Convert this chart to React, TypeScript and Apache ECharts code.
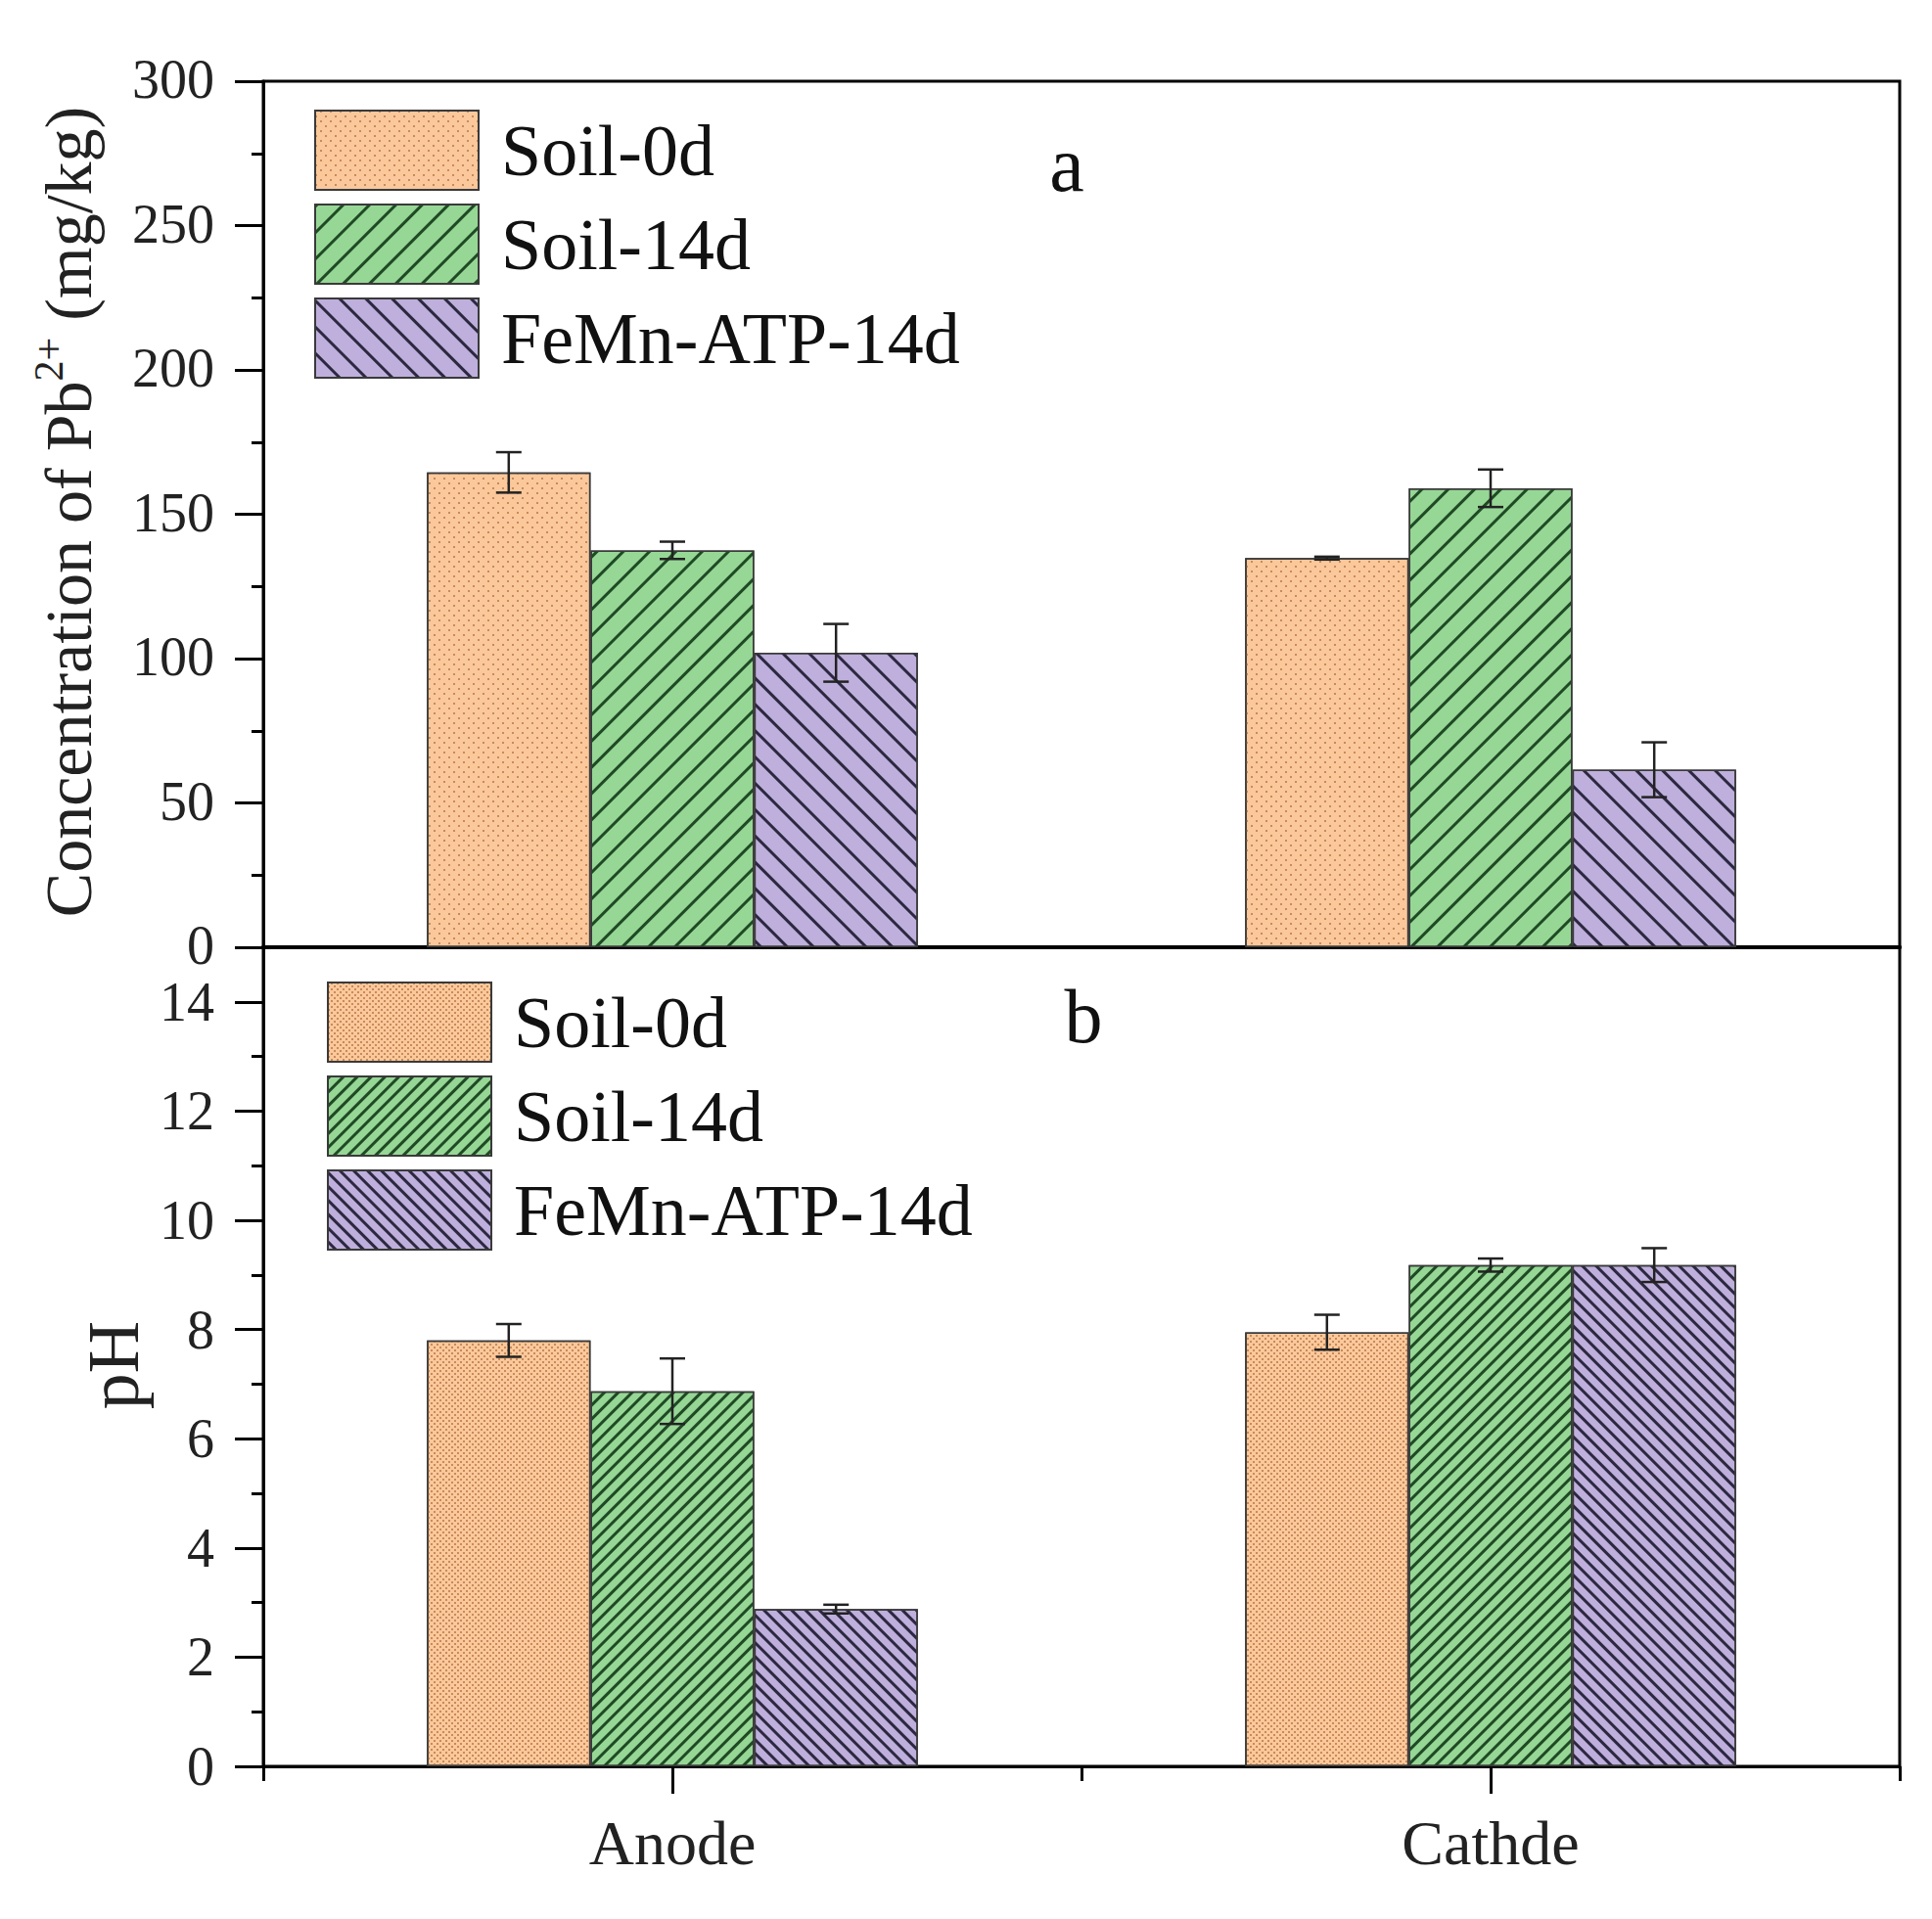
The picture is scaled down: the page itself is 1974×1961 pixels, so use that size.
import React, { useEffect, useRef } from "react";
import * as echarts from "echarts";

const categories = ["Anode", "Cathde"];
const seriesNames = ["Soil-0d", "Soil-14d", "FeMn-ATP-14d"];

// Panel a: Pb2+ concentration (mg/kg)
const pbSoil0d = [164.5, 134.8];
const pbSoil14d = [137.5, 159.0];
const pbFeMn14d = [102.0, 61.5];
const pbSoil0dErr = [7.0, 0.5];
const pbSoil14dErr = [3.0, 6.5];
const pbFeMn14dErr = [10.0, 9.5];

// Panel b: pH
const phSoil0d = [7.8, 7.95];
const phSoil14d = [6.87, 9.18];
const phFeMn14d = [2.88, 9.18];
const phSoil0dErr = [0.3, 0.32];
const phSoil14dErr = [0.6, 0.12];
const phFeMn14dErr = [0.08, 0.31];

const FONT = "'Liberation Serif', 'Times New Roman', serif";
const fills = ["#FAC89B", "#96D796", "#BEAFDC"];
const BORDER = "#3a3a3a";

function dots(step: number) {
  return {
    symbol: "rect",
    symbolSize: 1,
    dashArrayX: [
      [2, step - 2],
      [0, step / 2, 2, step / 2 - 2],
    ],
    dashArrayY: [2, step / 2 - 2],
    color: "#C98A5A",
  };
}
function hatch(gap: number, rot: number, color: string) {
  return {
    symbol: "rect",
    symbolSize: 1,
    dashArrayX: [1, 0],
    dashArrayY: [2.5, gap],
    rotation: rot,
    color,
  };
}

const decalsA = [dots(10), hatch(16, -Math.PI / 4, "#1f4a24"), hatch(16, Math.PI / 4, "#2c2840")];
const decalsB = [dots(6), hatch(7, -Math.PI / 4, "#1f4a24"), hatch(7, Math.PI / 4, "#2c2840")];

function errData(vals: number[], errs: number[], k: number) {
  return vals.map((v, i) => [i, v, errs[i], k]);
}

function errRender(params: any, api: any) {
  const xi = api.value(0);
  const v = api.value(1);
  const e = api.value(2);
  const k = api.value(3);
  const band = api.size([1, 0])[0];
  const c = api.coord([xi, v]);
  const x = c[0] + (k - 1) * band * 0.2;
  const top = api.coord([xi, v + e])[1];
  const bot = api.coord([xi, v - e])[1];
  const hw = 13;
  const style = { stroke: "#222", lineWidth: 2.5 };
  return {
    type: "group",
    children: [
      { type: "line", shape: { x1: x, y1: top, x2: x, y2: bot }, style },
      { type: "line", shape: { x1: x - hw, y1: top, x2: x + hw, y2: top }, style },
      { type: "line", shape: { x1: x - hw, y1: bot, x2: x + hw, y2: bot }, style },
    ],
  };
}

export default function App() {
  const ref = useRef<HTMLDivElement>(null);
  useEffect(() => {
    if (!ref.current) return;
    const chart = echarts.init(ref.current, undefined, { renderer: "svg" });
    const pbVals = [pbSoil0d, pbSoil14d, pbFeMn14d];
    const pbErrs = [pbSoil0dErr, pbSoil14dErr, pbFeMn14dErr];
    const phVals = [phSoil0d, phSoil14d, phFeMn14d];
    const phErrs = [phSoil0dErr, phSoil14dErr, phFeMn14dErr];

    const barSeries: any[] = [];
    const errSeries: any[] = [];
    seriesNames.forEach((name, k) => {
      barSeries.push({
        type: "bar",
        name,
        xAxisIndex: 0,
        yAxisIndex: 0,
        data: pbVals[k],
        barGap: "0%",
        barCategoryGap: "40%",
        itemStyle: { color: fills[k], borderColor: BORDER, borderWidth: 1.5, decal: decalsA[k] },
      });
      barSeries.push({
        type: "bar",
        name,
        xAxisIndex: 1,
        yAxisIndex: 1,
        data: phVals[k],
        barGap: "0%",
        barCategoryGap: "40%",
        itemStyle: { color: fills[k], borderColor: BORDER, borderWidth: 1.5, decal: decalsB[k] },
      });
      errSeries.push({
        type: "custom",
        xAxisIndex: 0,
        yAxisIndex: 0,
        z: 5,
        renderItem: errRender,
        data: errData(pbVals[k], pbErrs[k], k),
      });
      errSeries.push({
        type: "custom",
        xAxisIndex: 1,
        yAxisIndex: 1,
        z: 5,
        renderItem: errRender,
        data: errData(phVals[k], phErrs[k], k),
      });
    });

    const tickLabel = { fontSize: 56, fontFamily: FONT, color: "#222", margin: 50 };
    const axisLine = { show: true, lineStyle: { color: "#000", width: 3 } };

    const legendBase = {
      orient: "vertical",
      icon: "rect",
      itemWidth: 167,
      itemHeight: 81,
      itemGap: 13,
      selectedMode: false,
      textStyle: { fontSize: 74, fontFamily: FONT, color: "#111", padding: [0, 0, 0, 18] },
    };

    chart.setOption({
      animation: false,
      backgroundColor: "#fff",
      grid: [
        { left: 261, right: 25, top: 75, height: 885, show: true, borderColor: "#000", borderWidth: 3, outerBoundsMode: "none" },
        { left: 261, right: 25, top: 960, height: 837, show: true, borderColor: "#000", borderWidth: 3, outerBoundsMode: "none" },
      ],
      legend: [
        {
          ...legendBase,
          left: 308,
          top: 99,
          data: seriesNames.map((n, k) => ({
            name: n,
            itemStyle: { color: fills[k], borderColor: BORDER, borderWidth: 2, decal: decalsA[k] },
          })),
        },
        {
          ...legendBase,
          left: 321,
          top: 990,
          data: seriesNames.map((n, k) => ({
            name: n,
            itemStyle: { color: fills[k], borderColor: BORDER, borderWidth: 2, decal: decalsB[k] },
          })),
        },
      ],
      xAxis: [
        {
          type: "category",
          gridIndex: 0,
          data: categories,
          axisLine: { show: true, lineStyle: { color: "#000", width: 4 } },
          axisTick: { show: false },
          axisLabel: { show: false },
        },
        {
          type: "category",
          gridIndex: 1,
          position: "bottom",
          data: categories,
          axisLine,
          axisTick: { show: true, alignWithLabel: true, length: 28, lineStyle: { width: 3, color: "#000" } },
          axisLabel: { fontSize: 64, fontFamily: FONT, color: "#222", margin: 46 },
        },
        {
          type: "category",
          gridIndex: 1,
          position: "bottom",
          data: categories,
          axisLine: { show: false },
          axisTick: { show: true, interval: 0, length: 15, lineStyle: { width: 3, color: "#000" } },
          axisLabel: { show: false },
        },
      ],
      yAxis: [
        {
          type: "value",
          gridIndex: 0,
          min: 0,
          max: 300,
          interval: 50,
          axisLine,
          axisTick: { show: true, length: 29, lineStyle: { width: 3, color: "#000" } },
          minorTick: { show: true, splitNumber: 2, length: 12, lineStyle: { width: 3, color: "#000" } },
          splitLine: { show: false },
          axisLabel: { ...tickLabel, verticalAlign: "bottom", lineHeight: 56, padding: [0, 0, -26, 0] },
        },
        {
          type: "value",
          gridIndex: 1,
          position: "left",
          min: 0,
          max: 15,
          interval: 2,
          axisLine,
          axisTick: { show: true, length: 29, lineStyle: { width: 3, color: "#000" } },
          splitLine: { show: false },
          axisLabel: { ...tickLabel, formatter: (v: number) => (v > 14 ? "" : String(v)) },
        },
        {
          type: "value",
          gridIndex: 1,
          position: "left",
          min: 0,
          max: 15,
          interval: 1,
          axisLine: { show: false },
          axisTick: { show: true, length: 12, lineStyle: { width: 3, color: "#000" } },
          splitLine: { show: false },
          axisLabel: { show: false },
        },
      ],
      graphic: [
        {
          type: "text",
          x: 62,
          y: 515,
          rotation: Math.PI / 2,
          style: {
            text: "{a|Concentration of Pb}{s|2+}{a| (mg/kg)}",
            align: "center",
            verticalAlign: "middle",
            fill: "#222",
            rich: {
              a: { fontSize: 68, fontFamily: FONT, fill: "#222" },
              s: { fontSize: 42, fontFamily: FONT, fill: "#222", padding: [0, 0, 40, 0] },
            },
          },
        },
        {
          type: "text",
          x: 108,
          y: 1387,
          rotation: Math.PI / 2,
          style: { text: "pH", fontSize: 74, fontFamily: FONT, fill: "#222", align: "center", verticalAlign: "middle" },
        },
        {
          type: "text",
          x: 1082,
          y: 160,
          style: { text: "a", fontSize: 80, fontFamily: FONT, fill: "#111", align: "center", verticalAlign: "middle" },
        },
        {
          type: "text",
          x: 1099,
          y: 1030,
          style: { text: "b", fontSize: 78, fontFamily: FONT, fill: "#111", align: "center", verticalAlign: "middle" },
        },
      ],
      series: [...barSeries, ...errSeries],
    });
    return () => chart.dispose();
  }, []);
  return <div ref={ref} style={{ width: 1958, height: 1945, background: "#fff" }} />;
}
